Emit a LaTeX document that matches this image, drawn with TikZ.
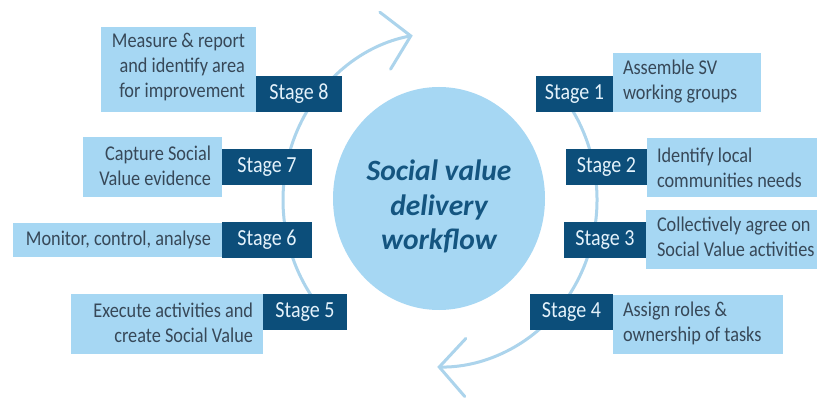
\documentclass[tikz,border=0pt]{standalone}
\usepackage{fontspec}
\setmainfont{Carlito}[FakeStretch=0.87]
\newfontfamily\titlefont{Carlito}
\usetikzlibrary{shapes.geometric,arrows.meta}
\definecolor{lightfill}{RGB}{166,215,243}
\definecolor{darkfill}{RGB}{12,78,122}
\definecolor{arccol}{RGB}{172,212,236}
\definecolor{bodytext}{RGB}{55,72,88}
\definecolor{stagetext}{RGB}{228,242,251}
\definecolor{titletext}{RGB}{20,85,128}
\tikzset{
  lightbox/.style={fill=lightfill, draw=none, inner sep=0pt, rectangle},
  darkbox/.style={fill=darkfill, draw=none, inner sep=0pt, rectangle, minimum height=36pt,
    text=stagetext, font=\fontsize{23}{27}\selectfont},
  desc/.style={inner sep=0pt, text=bodytext, font=\fontsize{21}{25}\selectfont},
  descL/.style={desc, anchor=east, align=right},
  descR/.style={desc, anchor=west, align=left},
  core/.style={ellipse, fill=lightfill, draw=none, inner sep=0pt, minimum width=212pt,
    minimum height=223pt},
  titletxt/.style={inner sep=0pt, align=center, text=titletext,
    font=\titlefont\fontsize{29.5}{34.5}\selectfont\bfseries\itshape},
  cycle/.style={draw=arccol, line width=3pt, line cap=round,
    -{Straight Barb[length=26pt,width=58pt,line cap=round]}}
}
\begin{document}
\begin{tikzpicture}[x=1pt,y=-1pt]
\useasboundingbox (0,0) rectangle (817,398);
\fill[white] (0,0) rectangle (817,398);
\coordinate (ctr) at (440,200);
% cycle arcs
\draw[cycle] ([shift={(-35:157 and 167)}]ctr) arc[start angle=-35, end angle=91, x radius=157, y radius=167];
\draw[cycle] ([shift={(145:157 and 167)}]ctr) arc[start angle=145, end angle=260, x radius=157, y radius=167];
% light boxes
\node[lightbox, minimum width=155pt, minimum height=85pt] (b8) at (178.5,69.5) {};
\node[lightbox, minimum width=139pt, minimum height=60pt] (b7) at (152.5,167) {};
\node[lightbox, minimum width=209pt, minimum height=34pt] (b6) at (117.5,240) {};
\node[lightbox, minimum width=192pt, minimum height=60pt] (b5) at (167,324) {};
\node[lightbox, minimum width=148pt, minimum height=59pt] (b1) at (687,82.5) {};
\node[lightbox, minimum width=170pt, minimum height=59pt] (b2) at (732,167.5) {};
\node[lightbox, minimum width=171pt, minimum height=59pt] (b3) at (731.5,239.5) {};
\node[lightbox, minimum width=170pt, minimum height=59pt] (b4) at (698,324.5) {};
% texts
\node[descL] (t8) at ([xshift=-11pt,yshift=2pt]b8.east) {Measure \& report\\and identify area\\for improvement};
\node[descL] (t7) at ([xshift=-11pt,yshift=1pt]b7.east) {Capture Social\\Value evidence};
\node[descL] (t6) at ([xshift=-11pt]b6.east) {Monitor, control, analyse};
\node[descL] (t5) at ([xshift=-10pt,yshift=1pt]b5.east) {Execute activities and\\create Social Value};
\node[descR] (t1) at ([xshift=10pt,yshift=1pt]b1.west) {Assemble SV\\working groups};
\node[descR] (t2) at ([xshift=10pt]b2.west) {Identify local\\communities needs};
\node[descR] (t3) at ([xshift=11pt,yshift=3pt]b3.west) {Collectively agree on\\Social Value activities};
\node[descR] (t4) at ([xshift=10pt,yshift=1pt]b4.west) {Assign roles \&\\ownership of tasks};
% stage boxes
\node[darkbox, minimum width=86pt] (s8) at (299,94) {Stage 8};
\node[darkbox, minimum width=90pt] (s7) at (267,167) {Stage 7};
\node[darkbox, minimum width=90pt] (s6) at (267,240) {Stage 6};
\node[darkbox, minimum width=84pt] (s5) at (305,312) {Stage 5};
\node[darkbox, minimum width=77pt] (s1) at (574.5,94) {Stage 1};
\node[darkbox, minimum width=81pt] (s2) at (606.5,167) {Stage 2};
\node[darkbox, minimum width=82pt] (s3) at (605,240) {Stage 3};
\node[darkbox, minimum width=83pt] (s4) at (571.5,312) {Stage 4};
% centre
\node[core] (hub) at (439,198.5) {};
\node[titletxt] (title) at ([yshift=-8pt]hub.center) {Social value\\delivery\\workflow};
\end{tikzpicture}
\end{document}
